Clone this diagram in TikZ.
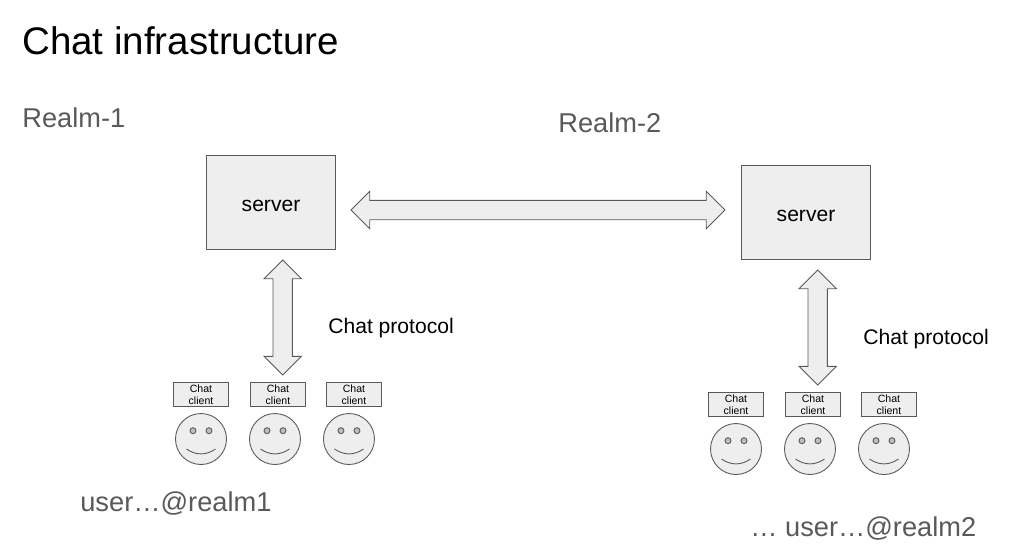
\documentclass[tikz,border=0pt]{standalone}
\usepackage{fontspec}
\setmainfont{Liberation Sans}
\usetikzlibrary{shapes.arrows}
\definecolor{boxfill}{HTML}{EEEEEE}
\definecolor{boxline}{HTML}{595959}
\definecolor{realmgray}{HTML}{595959}
\newcommand{\smileface}[1]{
    \draw[facepart, fill=boxfill!80!black] ([shift={(-8,-8.3)}]#1.center) circle (0.06cm);
    \draw[facepart, fill=boxfill!80!black] ([shift={(8,-8.3)}]#1.center) circle (0.06cm);
    \draw[facepart] ([shift={(-14.5,10)}]#1.center) .. controls ([shift={(-5,16.5)}]#1.center) and ([shift={(5,16.5)}]#1.center) .. ([shift={(14.5,10)}]#1.center);
}
\begin{document}
\begin{tikzpicture}[x=0.02cm,y=-0.02cm,>=stealth,
    serverbox/.style={rectangle,draw=boxline,fill=boxfill,line width=0.5pt,minimum width=2.58cm,minimum height=1.88cm,text height=10.8pt,text depth=0pt,font=\fontsize{12}{14}\selectfont},
    clientbox/.style={rectangle,draw=boxline,fill=boxfill,line width=0.5pt,minimum width=1.1cm,minimum height=0.49cm,inner sep=0pt,align=center,font=\fontsize{6}{7.1}\selectfont},
    facecircle/.style={circle,draw=boxline,fill=boxfill,line width=0.5pt,minimum size=1.02cm,inner sep=0pt},
    facepart/.style={draw=boxline,line width=0.5pt},
    blockarrow/.style={double arrow,draw=boxline,fill=boxfill,line width=0.5pt,double arrow head extend=0.18cm,minimum width=0.74cm,inner xsep=0pt,inner ysep=0.185cm,double arrow tip angle=90},
    realmtext/.style={anchor=west,inner sep=0pt,text=realmgray,font=\fontsize{15.5}{18}\selectfont},
    prototext/.style={anchor=west,inner sep=0pt,font=\fontsize{12}{14}\selectfont}]

    \useasboundingbox (0,0) rectangle (1016,549);

    \node[anchor=west,inner sep=0pt,font=\fontsize{21.9}{26}\selectfont] (title) at (22,41) {Chat infrastructure};
    \node[realmtext] (realm1) at (22,118) {Realm-1};
    \node[realmtext] (realm2) at (558,123) {Realm-2};

    \node[serverbox] (server1) at (271,202.5) {server};
    \node[serverbox] (server2) at (806,212.5) {server};
    \node[blockarrow,minimum height=7.48cm] (link) at (538,210) {};

    % realm 1
    \node[blockarrow,minimum height=2.3cm,rotate=90] (arrow1) at (282.7,317.5) {};
    \node[prototext] (proto1) at (328,328) {Chat protocol};
    \node[clientbox] (client11) at (201,394.5) {Chat\\client};
    \node[clientbox] (client12) [right of = client11, node distance=1.54cm] {Chat\\client};
    \node[clientbox] (client13) [right of = client12, node distance=1.52cm] {Chat\\client};
    \node[facecircle] (face11) at (201,439) {};
    \node[facecircle] (face12) [right of = face11, node distance=1.48cm] {};
    \node[facecircle] (face13) [right of = face12, node distance=1.48cm] {};
    \smileface{face11}
    \smileface{face12}
    \smileface{face13}
    \node[realmtext] (user1) at (80,503) {user…@realm1};

    % realm 2
    \node[blockarrow,minimum height=2.3cm,rotate=90] (arrow2) at (817.7,327.5) {};
    \node[prototext] (proto2) at (863,339) {Chat protocol};
    \node[clientbox] (client21) at (736,404.5) {Chat\\client};
    \node[clientbox] (client22) [right of = client21, node distance=1.54cm] {Chat\\client};
    \node[clientbox] (client23) [right of = client22, node distance=1.52cm] {Chat\\client};
    \node[facecircle] (face21) at (736,449) {};
    \node[facecircle] (face22) [right of = face21, node distance=1.48cm] {};
    \node[facecircle] (face23) [right of = face22, node distance=1.48cm] {};
    \smileface{face21}
    \smileface{face22}
    \smileface{face23}
    \node[realmtext] (user2) at (750,528.5) {… user…@realm2};
\end{tikzpicture}
\end{document}
